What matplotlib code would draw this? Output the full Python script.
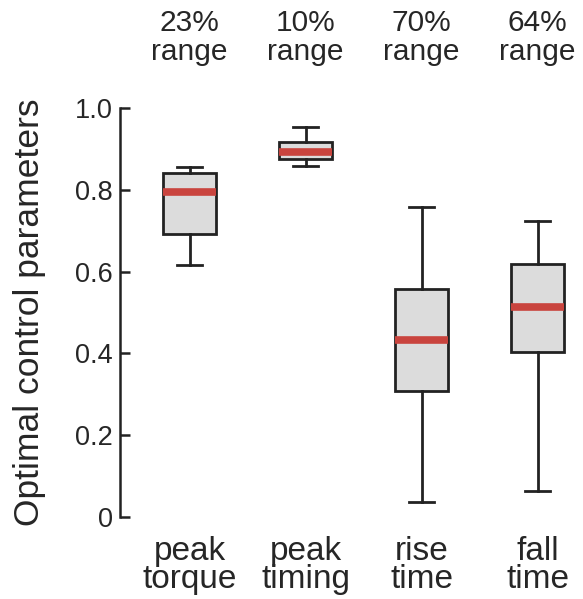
import matplotlib
matplotlib.use("Agg")
import matplotlib.pyplot as plt
from matplotlib.transforms import blended_transform_factory

plt.rcParams['font.family'] = ['Liberation Sans', 'DejaVu Sans']

categories = ["peak\ntorque", "peak\ntiming", "rise\ntime", "fall\ntime"]
range_labels = ["23%\nrange", "10%\nrange", "70%\nrange", "64%\nrange"]
whisker_low = [0.616, 0.857, 0.037, 0.064]
q1 = [0.693, 0.875, 0.308, 0.403]
median = [0.795, 0.893, 0.433, 0.514]
q3 = [0.842, 0.918, 0.557, 0.619]
whisker_high = [0.856, 0.954, 0.757, 0.724]

text_color = "#262626"
edge_color = "#222222"

fig = plt.figure(figsize=(5.83, 5.99), dpi=100)
ax = fig.add_axes([0.2058, 0.1369, 0.79, 0.6828])

stats = []
for lab, lo, a, m, b, hi in zip(categories, whisker_low, q1, median, q3, whisker_high):
    stats.append(dict(label=lab, whislo=lo, q1=a, med=m, q3=b, whishi=hi, fliers=[]))

positions = list(range(1, len(categories) + 1))
ax.bxp(stats, positions=positions, widths=0.46, capwidths=0.22, patch_artist=True,
       showfliers=False,
       boxprops=dict(facecolor="#dcdcdc", edgecolor=edge_color, linewidth=2.0),
       whiskerprops=dict(color=edge_color, linewidth=2.0),
       capprops=dict(color=edge_color, linewidth=2.0),
       medianprops=dict(color="#c9443e", linewidth=5.5, solid_capstyle="butt"))

ax.set_xlim(0.4, 4.37)
ax.set_ylim(0, 1.0)
for s in ["top", "right", "bottom"]:
    ax.spines[s].set_visible(False)
ax.spines["left"].set_linewidth(1.8)
ax.spines["left"].set_color(edge_color)
ax.spines["left"].set_bounds(0, 1.0)

ax.set_yticks([0, 0.2, 0.4, 0.6, 0.8, 1.0])
ax.set_yticklabels(["0", "0.2", "0.4", "0.6", "0.8", "1.0"])
ax.tick_params(axis="y", direction="in", length=7, width=1.8, color=edge_color,
               labelsize=19.5, labelcolor=text_color, pad=5)
ax.tick_params(axis="x", length=0, labelsize=24, labelcolor=text_color, pad=14)
ax.set_xticks(positions)
ax.set_xticklabels(categories, linespacing=0.86)

ax.set_ylabel("Optimal control parameters", fontsize=25.5, color=text_color)
ax.yaxis.set_label_coords(-0.16, 0.5)

trans = blended_transform_factory(ax.transData, ax.transAxes)
for x, t in zip(positions, range_labels):
    ax.text(x, 1.103, t, transform=trans, ha="center", va="bottom", fontsize=21.5,
            color=text_color, linespacing=1.05)

fig.savefig("out.png", dpi=100, facecolor="white")
